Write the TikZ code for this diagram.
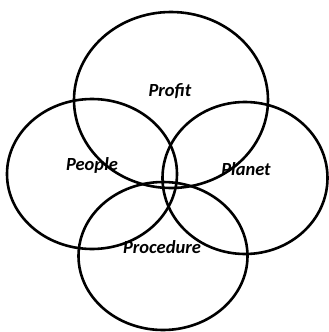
\documentclass[tikz,border=0pt]{standalone}
\usepackage{fontspec}
\setmainfont{Carlito}
\usetikzlibrary{shapes.geometric}

\begin{document}
\begin{tikzpicture}[
  x=1pt, y=-1pt,
  ring/.style  ={draw, ellipse, line width=2.6pt, inner sep=0pt},
  lbl/.style   ={font=\fontsize{18.5}{20}\selectfont\bfseries\itshape},
]
  \useasboundingbox (0,0) rectangle (329,332);

  % the four circles
  \node[ring, minimum width=194pt, minimum height=176pt] (profitc)    at (171,100) {};
  \node[ring, minimum width=170pt, minimum height=150pt] (peoplec)    at (92,174)  {};
  \node[ring, minimum width=165pt, minimum height=152pt] (planetc)    at (245,178) {};
  \node[ring, minimum width=169pt, minimum height=148pt] (procedurec) at (163,256) {};

  % labels
  \node[lbl] (profit)    at (170,91)  {Profit};
  \node[lbl] (people)    at (92,165)  {People};
  \node[lbl] (planet)    at (246,169) {Planet};
  \node[lbl] (procedure) at (162,247) {Procedure};
\end{tikzpicture}
\end{document}
